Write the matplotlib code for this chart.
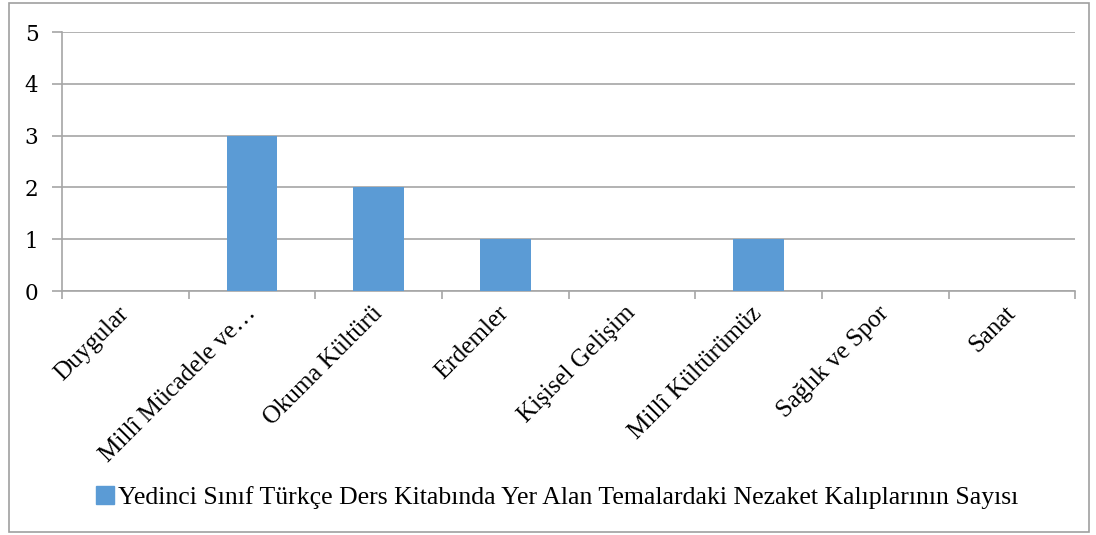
import numpy as np
import matplotlib.pyplot as plt
from matplotlib.patches import Rectangle

# temalar ve nezaket kalibi sayilari
temalar = ['Duygular', 'Millî Mücadele ve…', 'Okuma Kültürü', 'Erdemler',
           'Kişisel Gelişim', 'Millî Kültürümüz', 'Sağlık ve Spor', 'Sanat']
sayilar = [0, 3, 2, 1, 0, 1, 0, 0]
y_ticks = [0, 1, 2, 3, 4, 5]
seri_adi = 'Yedinci Sınıf Türkçe Ders Kitabında Yer Alan Temalardaki Nezaket Kalıplarının Sayısı'

bar_color = '#5B9BD5'
grid_color = '#A6A6A6'

fig = plt.figure(figsize=(10.96, 5.35), dpi=100)
ax = fig.add_axes([0.0566, 0.456, 0.9244, 0.484])

x = np.arange(len(temalar))
ax.bar(x, sayilar, width=0.4, color=bar_color, zorder=3)

ax.set_xlim(-0.5, len(temalar) - 0.5)
ax.set_ylim(0, 5)
ax.set_yticks(y_ticks)
ax.set_yticklabels([str(v) for v in y_ticks], fontfamily='DejaVu Serif', fontsize=15.5)
ax.yaxis.grid(True, color=grid_color, linewidth=1.2, zorder=0)

# kategori sinirlarinda tik isaretleri
ax.set_xticks(np.arange(len(temalar) + 1) - 0.5)
ax.set_xticklabels([])
ax.set_xticks(x - 0.06, minor=True)
ax.set_xticklabels(temalar, minor=True, rotation=45, ha='right', va='top',
                   rotation_mode='anchor', fontfamily='Liberation Serif', fontsize=18)
ax.tick_params(axis='x', which='minor', length=0, pad=8)
ax.tick_params(axis='x', which='major', length=6, color=grid_color, width=1.2)
ax.tick_params(axis='y', length=7, color=grid_color, width=1.2, pad=10)

for side in ['top', 'right']:
    ax.spines[side].set_visible(False)
ax.spines['left'].set_color(grid_color)
ax.spines['bottom'].set_color(grid_color)
ax.spines['left'].set_linewidth(1.2)
ax.spines['bottom'].set_linewidth(1.2)

# legend
handle = Rectangle((0, 0), 1, 1, color=bar_color)
fig.legend([handle], [seri_adi], loc='center', bbox_to_anchor=(0.508, 0.071),
           frameon=False, handlelength=0.7, handleheight=0.7, handletextpad=0.15,
           prop={'family': 'Liberation Serif', 'size': 18.5})

# dis cerceve
fig.patches.append(Rectangle((0.008, 0.006), 0.986, 0.988, transform=fig.transFigure,
                             fill=False, edgecolor='#A0A0A0', linewidth=1.2))

plt.savefig('out.png', dpi=100)
